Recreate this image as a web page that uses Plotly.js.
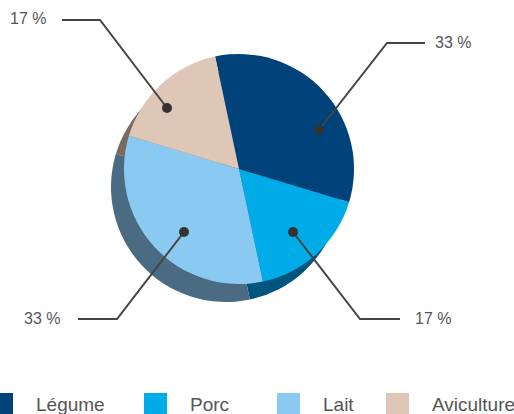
<!DOCTYPE html>
<html>
<head>
<meta charset="utf-8">
<script src="https://cdn.plot.ly/plotly-3.0.1.min.js"></script>
<style>html,body{margin:0;padding:0;background:#fff;}#chart{width:514px;height:414px;}</style>
</head>
<body>
<div id="chart"></div>
<script>
// ---- data ----
const categories = ["Légume", "Porc", "Lait", "Aviculture"];
const values = [33, 17, 33, 17];
const labelTexts = ["33 %", "17 %", "33 %", "17 %"];

// ---- styles ----
const colors = ["#00427A", "#00ACE8", "#8ACAF2", "#DFC7B7"];
const shadowColors = ["#1E3B57", "#00557F", "#4A6B82", "#7B6A5F"];
const W = 514, H = 414;
const px = x => x / W;
const py = y => 1 - y / H;

// callout geometry (pixels): dot, elbow, line end, text anchor
const callouts = [
  {dot:[319,130], elbow:[387,43], end:[425,43], text:[433,42]},
  {dot:[293,232], elbow:[360,319], end:[400,319], text:[413,318]},
  {dot:[184,232], elbow:[117,319], end:[78,319], text:[62,318], right:true},
  {dot:[167,108], elbow:[100,20], end:[62,20], text:[48,19], right:true}
];
// legend geometry (pixels)
const legendSquareX = [-10, 144, 277, 386];

const pieCommon = {
  type: "pie", values: values, labels: categories, sort: false,
  direction: "clockwise", rotation: -12, textinfo: "none",
  hoverinfo: "none", showlegend: false
};
const shadow = Object.assign({}, pieCommon, {
  marker: {colors: shadowColors, line: {width: 0}},
  domain: {x: [px(111), px(341)], y: [py(302), py(72)]}
});
const main = Object.assign({}, pieCommon, {
  marker: {colors: colors, line: {width: 0}},
  domain: {x: [px(124), px(354)], y: [py(284), py(54)]}
});

const shapes = [], annotations = [];
callouts.forEach((c, i) => {
  shapes.push({type: "path", xref: "paper", yref: "paper",
    path: `M ${px(c.dot[0])} ${py(c.dot[1])} L ${px(c.elbow[0])} ${py(c.elbow[1])} L ${px(c.end[0])} ${py(c.end[1])}`,
    line: {color: "#444", width: 2}});
  const r = 5;
  shapes.push({type: "circle", xref: "paper", yref: "paper",
    x0: px(c.dot[0] - r), x1: px(c.dot[0] + r), y0: py(c.dot[1] + r), y1: py(c.dot[1] - r),
    fillcolor: "#333", line: {width: 0}});
  annotations.push({xref: "paper", yref: "paper", x: px(c.text[0]), y: py(c.text[1]),
    xanchor: c.right ? "right" : "left", yanchor: "middle", showarrow: false,
    text: labelTexts[i], font: {family: "Liberation Sans, Arial, sans-serif", size: 16, color: "#555"}});
});
categories.forEach((cat, i) => {
  const x0 = legendSquareX[i];
  shapes.push({type: "rect", xref: "paper", yref: "paper",
    x0: px(x0), x1: px(x0 + 23), y0: py(420), y1: py(393),
    fillcolor: colors[i], line: {width: 0}});
  annotations.push({xref: "paper", yref: "paper", x: px(x0 + 44), y: py(404),
    xanchor: "left", yanchor: "middle", showarrow: false, text: cat,
    font: {family: "Liberation Sans, Arial, sans-serif", size: 19, color: "#555"}});
});

const layout = {
  width: W, height: H, margin: {l: 0, r: 0, t: 0, b: 0},
  paper_bgcolor: "#fff", plot_bgcolor: "#fff", showlegend: false,
  shapes: shapes, annotations: annotations
};
Plotly.newPlot("chart", [shadow, main], layout, {displayModeBar: false, staticPlot: true});
</script>
</body>
</html>
